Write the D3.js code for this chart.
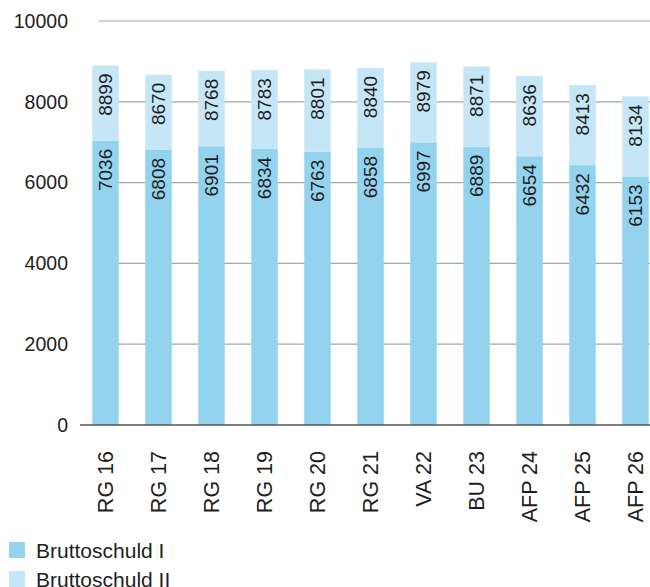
<!DOCTYPE html>
<html lang="en">
<head>
    <meta charset="utf-8">
    <script src="https://d3js.org/d3.v7.min.js"></script>
</head>
<style>
    body { margin: 0; background: #fff; }
    text { font-family: "Liberation Sans", Arial, sans-serif; fill: #1e1e1e; }
</style>
<body>
<script>
    const w = 650
    const h = 587

    // data
    const categories = ["RG 16", "RG 17", "RG 18", "RG 19", "RG 20", "RG 21", "VA 22", "BU 23", "AFP 24", "AFP 25", "AFP 26"]
    const schuldI = [7036, 6808, 6901, 6834, 6763, 6858, 6997, 6889, 6654, 6432, 6153]
    const schuldII = [8899, 8670, 8768, 8783, 8801, 8840, 8979, 8871, 8636, 8413, 8134]
    const yTicks = [0, 2000, 4000, 6000, 8000, 10000]
    const seriesNames = ["Bruttoschuld I", "Bruttoschuld II"]
    const colors = ["#94d3ee", "#c5e6f6"]

    const svg = d3.select("body")
        .append("svg")
        .attr("width", w)
        .attr("height", h)

    const x = d3.scaleBand()
        .domain(categories)
        .range([79, 662])
        .paddingInner(0.5)
        .paddingOuter(0.25)

    const y = d3.scaleLinear()
        .domain([0, 10000])
        .range([425, 21])

    // gridlines
    svg.selectAll(".grid")
        .data(yTicks.filter(d => d > 0))
        .enter()
        .append("line")
        .attr("x1", 99)
        .attr("x2", w)
        .attr("y1", d => y(d))
        .attr("y2", d => y(d))
        .attr("stroke", "#a6a6a6")
        .attr("stroke-width", 1.2)

    // y tick labels
    svg.selectAll(".ylab")
        .data(yTicks)
        .enter()
        .append("text")
        .attr("x", 68)
        .attr("y", d => y(d))
        .attr("dy", "0.35em")
        .attr("text-anchor", "end")
        .style("font-size", "19.5px")
        .text(d => d)

    // bottom segment (Bruttoschuld I)
    svg.selectAll(".b1")
        .data(categories)
        .enter()
        .append("rect")
        .attr("x", d => x(d))
        .attr("width", x.bandwidth())
        .attr("y", (d, i) => y(schuldI[i]))
        .attr("height", (d, i) => y(0) - y(schuldI[i]))
        .attr("fill", colors[0])

    // top segment up to Bruttoschuld II
    svg.selectAll(".b2")
        .data(categories)
        .enter()
        .append("rect")
        .attr("x", d => x(d))
        .attr("width", x.bandwidth())
        .attr("y", (d, i) => y(schuldII[i]))
        .attr("height", (d, i) => y(schuldI[i]) - y(schuldII[i]))
        .attr("fill", colors[1])

    // value labels, rotated
    function valueLabels(vals) {
        svg.selectAll(null)
            .data(categories)
            .enter()
            .append("text")
            .attr("transform", (d, i) => `translate(${x(d) + x.bandwidth() / 2},${y(vals[i]) + 8}) rotate(-90)`)
            .attr("text-anchor", "end")
            .attr("dy", "0.36em")
            .style("font-size", "19px")
            .text((d, i) => vals[i])
    }
    valueLabels(schuldII)
    valueLabels(schuldI)

    // baseline
    svg.append("line")
        .attr("x1", 80)
        .attr("x2", w)
        .attr("y1", y(0))
        .attr("y2", y(0))
        .attr("stroke", "#555")
        .attr("stroke-width", 1.5)

    // x labels
    svg.selectAll(".xlab")
        .data(categories)
        .enter()
        .append("text")
        .attr("transform", d => `translate(${x(d) + x.bandwidth() / 2},451) rotate(-90)`)
        .attr("text-anchor", "end")
        .attr("dy", "0.36em")
        .style("font-size", "21.5px")
        .text(d => d)

    // legend
    const legend = svg.selectAll(".leg")
        .data(seriesNames)
        .enter()
        .append("g")
        .attr("transform", (d, i) => `translate(9,${542 + i * 29})`)

    legend.append("rect")
        .attr("width", 16)
        .attr("height", 16)
        .attr("fill", (d, i) => colors[i])

    legend.append("text")
        .attr("x", 27)
        .attr("y", 8)
        .attr("dy", "0.36em")
        .style("font-size", "21px")
        .text(d => d)
</script>
</body>
</html>
